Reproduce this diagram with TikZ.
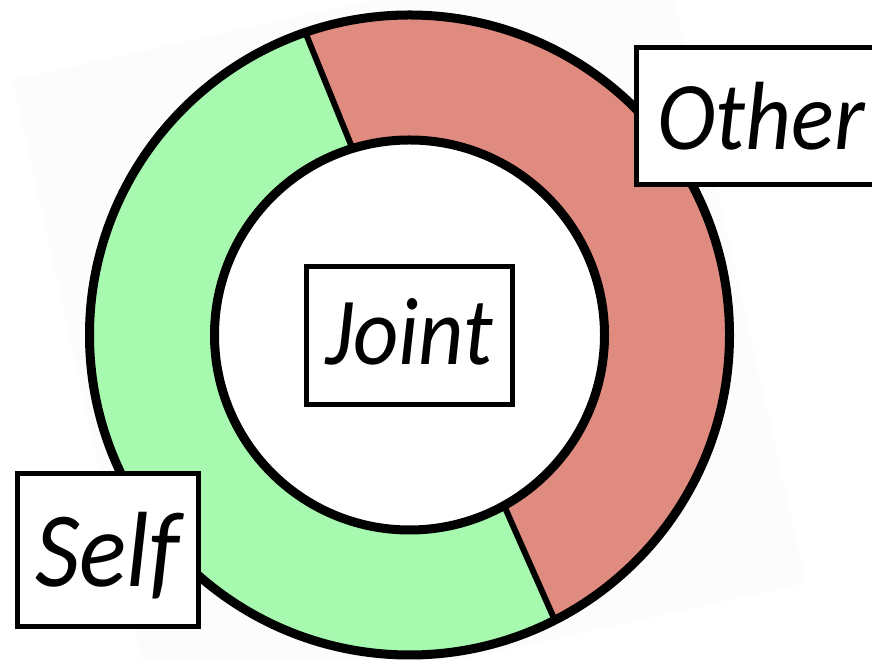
\documentclass[tikz,border=0pt]{standalone}
\usepackage{fontspec}
\setmainfont{Carlito}
\newfontfamily\lblfont[FakeStretch=0.92]{Carlito}
\definecolor{selfgreen}{RGB}{168,249,176}
\definecolor{otherred}{RGB}{224,139,128}
\definecolor{paper}{RGB}{252,252,252}
\tikzset{
  lbl/.style={draw=black, line width=5pt, fill=white, inner sep=0pt, text depth=0pt},
  ringline/.style={draw=black, line width=9pt},
  divline/.style={draw=black, line width=6pt}
}
\begin{document}
\begin{tikzpicture}[x=1pt,y=1pt]
\useasboundingbox (0,0) rectangle (872,660);
\clip (0,0) rectangle (872,660);
\fill[white] (0,0) rectangle (872,660);
% faint tilted paper
\fill[paper] (13,580) -- (660,724) -- (806,77) -- (156,-67) -- cycle;
\begin{scope}[shift={(409.5,325)}]
  \coordinate (c) at (0,0);
  \fill[selfgreen] (107:195) -- (109:320) arc[start angle=109, end angle=297, radius=320]
     -- (299:195) arc[start angle=299, end angle=107, radius=195] -- cycle;
  \fill[otherred] (-61:195) -- (-63:320) arc[start angle=-63, end angle=109, radius=320]
     -- (107:195) arc[start angle=107, end angle=-61, radius=195] -- cycle;
  \fill[white] (c) circle[radius=195];
  \draw[ringline] (c) circle[radius=320];
  \draw[ringline] (c) circle[radius=195];
  \draw[divline] (107:195) -- (109:320);
  \draw[divline] (-61:195) -- (-63:320);
\end{scope}
\node[lbl, minimum width=250pt, minimum height=137pt, text height=67pt, font=\lblfont\itshape\fontsize{97}{97}\selectfont] (other) at (761,543.5) {Other};
\node[lbl, minimum width=206pt, minimum height=138pt, text height=58pt, font=\lblfont\itshape\fontsize{96}{96}\selectfont] (joint) at (409,324) {Joint};
\node[lbl, minimum width=181pt, minimum height=153pt, text height=73pt, font=\lblfont\itshape\fontsize{107}{107}\selectfont] (self) at (107.5,109.5) {Self};
\end{tikzpicture}
\end{document}
